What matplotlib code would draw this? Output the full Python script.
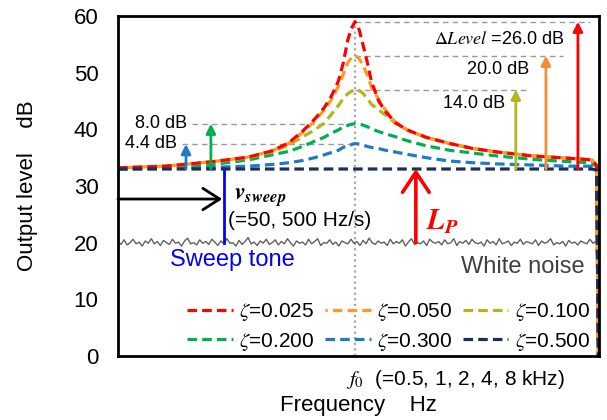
import numpy as np
import matplotlib
matplotlib.use("Agg")
import matplotlib.pyplot as plt

plt.rcParams['font.family'] = ['Liberation Sans', 'DejaVu Sans']
plt.rcParams['mathtext.fontset'] = 'stix'

# frequency ratio f/f0 (schematic x axis) and curve levels in dB
freq_ratio = [0.0, 0.2, 0.4, 0.55, 0.65, 0.72, 0.78, 0.83, 0.87, 0.9, 0.93, 0.95, 0.97, 0.985,
              1.0, 1.015, 1.03, 1.05, 1.07, 1.1, 1.13, 1.17, 1.22, 1.3, 1.4, 1.5, 1.6, 1.75,
              1.9, 2.0, 2.02, 2.028]

level_z0025 = [33.2, 33.5, 34.3, 35.1, 36.2, 37.6, 39.7, 41.8, 43.8, 45.8, 48.5, 51.6, 55.8, 57.8,
               59.0, 58.0, 55.6, 52.2, 48.4, 45.0, 43.1, 41.2, 39.9, 38.6, 37.5, 36.6, 36.0, 35.3,
               34.9, 34.6, 33.6, -3.0]
level_z0050 = [33.2, 33.5, 34.3, 35.1, 36.2, 37.5, 39.5, 41.5, 43.4, 45.2, 47.6, 49.6, 51.8, 52.6,
               53.0, 52.6, 51.6, 49.8, 47.4, 45.3, 43.3, 41.3, 39.9, 38.6, 37.5, 36.6, 36.0, 35.3,
               34.9, 34.6, 33.6, -3.0]
level_z0100 = [33.2, 33.5, 34.2, 35.0, 36.0, 37.2, 38.7, 39.9, 41.1, 42.6, 44.2, 45.4, 46.3, 46.7,
               47.0, 46.9, 46.5, 45.6, 44.4, 43.4, 42.5, 41.1, 39.9, 38.6, 37.5, 36.6, 36.0, 35.3,
               34.9, 34.6, 33.6, -3.0]
level_z0200 = [33.0, 33.3, 33.8, 34.6, 35.5, 36.1, 37.0, 37.9, 38.6, 39.3, 39.9, 40.4, 40.7, 40.9,
               41.0, 40.9, 40.8, 40.5, 40.1, 39.6, 39.2, 38.7, 38.0, 37.1, 36.3, 35.8, 35.3, 34.7,
               34.3, 34.1, 33.4, -3.0]
level_z0300 = [33.0, 33.1, 33.3, 33.5, 33.8, 34.1, 34.5, 35.0, 35.5, 35.9, 36.3, 36.8, 37.1, 37.3,
               37.5, 37.4, 37.3, 37.0, 36.8, 36.6, 36.3, 36.0, 35.6, 35.0, 34.4, 34.1, 33.9, 33.7,
               33.5, 33.5, 33.0, -3.0]
level_z0500 = [33.0, 33.0, 33.0, 33.0, 33.0, 33.0, 33.0, 33.0, 33.0, 33.0, 33.0, 33.0, 33.0, 33.0,
               33.0, 33.0, 33.0, 33.0, 33.0, 33.0, 33.0, 33.0, 33.0, 33.0, 33.0, 33.0, 33.0, 33.0,
               33.0, 33.0, 32.8, -3.0]

zeta_labels = ['0.025', '0.050', '0.100', '0.200', '0.300', '0.500']
curve_levels = [level_z0025, level_z0050, level_z0100, level_z0200, level_z0300, level_z0500]
curve_colors = ['#FF0000', '#FF9A1F', '#B4B41E', '#00B050', '#1F7AC8', '#1B2F5E']

# white noise level (dB)
noise_db = [
    20.2, 19.7, 20.5, 19.6, 20.0, 20.6, 19.8, 20.1, 19.4, 20.3,
    19.9, 20.7, 19.8, 20.2, 19.5, 20.4, 20.0, 19.7, 20.6, 19.9,
    20.1, 19.4, 20.3, 20.8, 19.8, 20.0, 19.6, 20.5, 19.9, 20.2,
    19.7, 20.6, 20.1, 19.5, 20.3, 19.8, 20.7, 19.9, 20.0, 19.4,
    20.4, 19.7, 20.2, 20.9, 19.8, 20.1, 19.5, 20.3, 19.9, 20.6,
    19.7, 20.0, 20.5, 19.6, 20.2, 19.8, 20.7, 20.0, 19.4, 20.3,
    19.9, 20.1, 19.6, 20.6, 19.8, 20.2, 20.7, 19.5, 20.0, 19.9,
    20.5, 19.7, 20.1, 19.4, 20.3, 20.0, 19.8, 20.6, 19.9, 20.2,
    19.5, 20.4, 19.8, 20.8, 20.0, 19.7, 20.3, 19.9, 20.1, 19.5,
    20.6, 19.8, 20.2, 19.9, 20.5, 19.4, 20.1, 20.7, 19.7, 20.0,
    19.8, 20.3, 19.5, 20.6, 20.1, 19.9, 20.2, 19.6, 20.5, 19.8,
    20.0, 20.7, 19.5, 20.2, 19.9, 20.4, 19.7, 20.6, 20.0, 19.8,
    20.1, 19.4, 20.5, 19.9, 20.2, 19.6, 20.7, 19.8, 20.0, 20.3,
    19.5, 20.1, 19.9, 20.6, 19.7, 20.2, 20.0, 19.8, 20.5, 19.5,
    20.3, 19.9, 20.1, 20.7, 19.6, 20.0, 19.8, 20.2, 19.4, 20.4,
    19.9, 20.1, 19.6, 20.3, 20.0, 19.8, 20.6, 19.9, 20.2, 20.0,
]

base_level = 33.0
delta_levels = [26.0, 20.0, 14.0, 8.0, 4.4]
delta_arrow_x = [1.941, 1.806, 1.679, 0.392, 0.287]
arrow_colors = ['#FF0000', '#F68B35', '#B4B41E', '#00B050', '#1F7AC8']

fig = plt.figure(figsize=(6.07, 4.2), dpi=100)
ax = fig.add_axes([118 / 607, 64 / 420, 481 / 607, 340 / 420])
ax.set_xlim(0, 2.03)
ax.set_ylim(0, 60)

# f0 marker
ax.axvline(1.0, color='#A6A6A6', lw=1.6, ls=(0, (1, 1.5)), zorder=1)

# noise
noise_x = np.linspace(0, 2.03, len(noise_db))
ax.plot(noise_x, noise_db, color='#606060', lw=1.0, zorder=2)

# response curves (red over orange, navy on top)
handles = {}
draw_order = [4, 3, 2, 1, 0, 5]
for i in draw_order:
    off = 2.3 if i == 1 else 0
    ln, = ax.plot(freq_ratio, curve_levels[i], color=curve_colors[i], lw=2.3,
                  ls=(off, (3, 1.6)), zorder=3 + draw_order.index(i),
                  label=r'$\zeta$=' + zeta_labels[i])
    handles[i] = ln

# reference dashed lines and level texts
ref_kw = dict(color='#9A9A9A', lw=1.0, ls=(0, (4, 3)), zorder=2)
peak_levels = [base_level + d for d in delta_levels]
ax.plot([1.0, 1.99], [peak_levels[0]] * 2, **ref_kw)
ax.plot([1.0, 1.878], [peak_levels[1]] * 2, **ref_kw)
ax.plot([1.0, 1.73], [peak_levels[2]] * 2, **ref_kw)
ax.plot([0.312, 1.0], [peak_levels[3]] * 2, **ref_kw)
ax.plot([0.27, 1.0], [peak_levels[4]] * 2, **ref_kw)

for x, d, c in zip(delta_arrow_x, delta_levels, arrow_colors):
    ax.annotate('', xy=(x, base_level + d), xytext=(x, base_level),
                arrowprops=dict(arrowstyle='-|>', color=c, lw=2, mutation_scale=14,
                                shrinkA=0, shrinkB=0), zorder=8)

ax.text(1.886, 55.8, r'$\mathit{\Delta Level}$ =%.1f dB' % delta_levels[0], fontsize=13,
        ha='right', va='center')
ax.text(1.734, 50.5, '%.1f dB' % delta_levels[1], fontsize=13, ha='right', va='center')
ax.text(1.633, 44.6, '%.1f dB' % delta_levels[2], fontsize=13, ha='right', va='center')
ax.text(0.291, 41.0, '%.1f dB' % delta_levels[3], fontsize=13, ha='right', va='center')
ax.text(0.249, 37.5, '%.1f dB' % delta_levels[4], fontsize=13, ha='right', va='center')

# sweep tone
ax.annotate('', xy=(0.44, 27.7), xytext=(0.0, 27.7),
            arrowprops=dict(arrowstyle='->,head_length=0.55,head_width=0.35', color='black',
                            lw=2, mutation_scale=22, shrinkA=0, shrinkB=0), zorder=8)
ax.plot([0.447, 0.447], [20.0, 32.7], color='#0000FF', lw=2, zorder=8)
ax.text(0.49, 27.9, r'$\mathbfit{v_{sweep}}$', fontsize=17, ha='left', va='center')
ax.text(0.464, 24.0, '(=50, 500 Hz/s)', fontsize=15, ha='left', va='center')
ax.text(0.219, 16.9, 'Sweep tone', fontsize=17, ha='left', va='center', color='#0000FF')
ax.text(1.97, 15.7, 'White noise', fontsize=17, ha='right', va='center', color='#404040')

# L_P arrow
ax.annotate('', xy=(1.257, base_level), xytext=(1.257, 20.0),
            arrowprops=dict(arrowstyle='->,head_length=0.6,head_width=0.4', color='#FF0000',
                            lw=2.6, mutation_scale=24, shrinkA=0, shrinkB=0), zorder=8)
ax.text(1.30, 23.6, r'$\mathbfit{L_P}$', fontsize=21, ha='left', va='center', color='#FF0000')

# legend: rows 0.025/0.050/0.100 and 0.200/0.300/0.500
order = [0, 3, 1, 4, 2, 5]
ax.legend([handles[i] for i in order], [handles[i].get_label() for i in order],
          ncol=3, loc='lower left', bbox_to_anchor=(0.105, -0.045), frameon=False,
          fontsize=15, handlelength=2.2, handletextpad=0.3, columnspacing=0.5,
          labelspacing=0.35)

# axes styling
for s in ax.spines.values():
    s.set_linewidth(2)
    s.set_zorder(10)
ax.set_xticks([])
ax.set_yticks([0, 10, 20, 30, 40, 50, 60])
ax.tick_params(axis='y', length=0, pad=14, labelsize=16)
ax.text(0.962, -4.2, r'$f_0$  (=0.5, 1, 2, 4, 8 kHz)', fontsize=15, ha='left', va='center',
        clip_on=False)
ax.set_xlabel('Frequency    Hz', fontsize=16, labelpad=28)
ax.set_ylabel('Output level    dB', fontsize=16, labelpad=26)

fig.savefig('out.png', dpi=100)
